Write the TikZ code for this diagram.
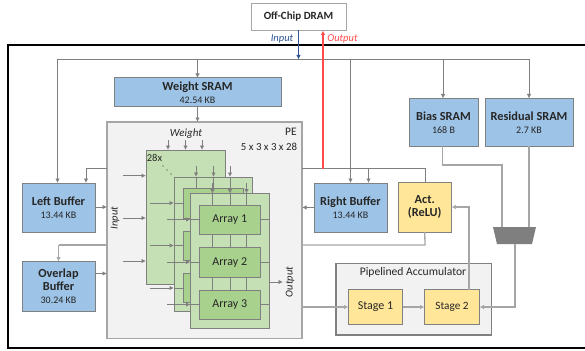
\documentclass[tikz,border=0pt]{standalone}
\usepackage{fontspec}
\setmainfont{Carlito}
\usetikzlibrary{arrows.meta}
\definecolor{bluefill}{HTML}{9DC3E6}
\definecolor{yellowfill}{HTML}{FFE699}
\definecolor{planefill}{HTML}{C5E0B4}
\definecolor{arrayfill}{HTML}{A9D18E}
\definecolor{panelfill}{HTML}{F2F2F2}
\definecolor{linegray}{HTML}{7F7F7F}
\definecolor{softgray}{HTML}{A6A6A6}
\definecolor{edgegray}{HTML}{808080}
\definecolor{inblue}{HTML}{2F5597}
\definecolor{outred}{HTML}{FF4B4B}
\definecolor{txt}{HTML}{262626}
\newcommand{\bx}[7][]{\node[#1, minimum width={(#4-#2)*1pt}, minimum height={(#5-#3)*1pt}] (#6) at ({(#2+#4)/2},{(#3+#5)/2}) {#7};}
\tikzset{
  x=1pt,y=-1pt,
  base/.style={draw=edgegray,line width=1pt,inner sep=0pt,outer sep=0pt,align=center,text=txt},
  mem/.style={base,fill=bluefill},
  yel/.style={base,fill=yellowfill},
  panel/.style={base,fill=panelfill,draw=softgray,line width=1.2pt},
  plane/.style={base,fill=planefill},
  arr/.style={base,fill=arrayfill,font=\fontsize{12}{14}\selectfont},
  tip/.style={-{Latex[length=4.5pt,width=4.5pt]}},
  wire/.style={draw=linegray,line width=.9pt},
  awire/.style={wire,tip},
  softwire/.style={draw=softgray,line width=1.3pt},
  lbl/.style={inner sep=0pt,outer sep=0pt,font=\fontsize{10.5}{12}\selectfont\itshape,text=txt},
}
\newcommand{\nm}[2]{{\fontsize{12.3}{14}\selectfont\bfseries #1}\\[1pt]{\fontsize{10}{11}\selectfont #2}}
\begin{document}
\begin{tikzpicture}
\useasboundingbox (0,0) rectangle (585,350);
\fill[white] (0,0) rectangle (585,350);
% frame
\draw[black,line width=1.3pt] (590,45) -- (8,45) -- (8,348) -- (590,348);
% DRAM
\bx[base,fill=white,draw=softgray]{251}{3.5}{346}{30.5}{dram}{\fontsize{11}{12}\selectfont\bfseries Off-Chip DRAM}
% main boxes
\bx[panel]{107}{122}{302}{338.5}{pe}{}
\bx[panel,draw=edgegray]{336}{263.5}{491.5}{335}{acc}{}
\bx[mem]{114}{78}{281}{106.5}{wsram}{\nm{Weight SRAM}{42.54 KB}}
\bx[mem]{409}{98.5}{478}{146}{bsram}{\nm{Bias SRAM}{168 B}}
\bx[mem]{485}{98.5}{573}{146}{rsram}{\nm{Residual SRAM}{2.7 KB}}
\bx[mem]{22}{183}{95}{232}{lbuf}{\nm{Left Buffer}{13.44 KB}}
\bx[mem]{22}{261.5}{95}{311}{obuf}{{\fontsize{12.3}{15}\selectfont\bfseries Overlap}\\[1pt]{\fontsize{12.3}{14}\selectfont\bfseries Buffer}\\[1pt]{\fontsize{10}{11}\selectfont 30.24 KB}}
\bx[mem]{314}{183}{387}{232}{rbuf}{\nm{Right Buffer}{13.44 KB}}
\bx[yel]{398}{182}{451.5}{232}{act}{{\fontsize{12.3}{15}\selectfont\bfseries Act.}\\[1pt]{\fontsize{12.3}{14}\selectfont\bfseries (ReLU)}}
\bx[yel]{348.5}{289.5}{402.5}{324.5}{st1}{\fontsize{12}{13}\selectfont Stage 1}
\bx[yel]{424.5}{289.5}{479.5}{324.5}{st2}{\fontsize{11.2}{13}\selectfont Stage 2}
\node[inner sep=0pt,text=txt,font=\fontsize{11.6}{13}\selectfont] (acclbl) at (413,272) {Pipelined Accumulator};
\node[inner sep=0pt,text=txt,font=\fontsize{11.5}{13}\selectfont] (pelbl) at (291,132) {PE};
\node[inner sep=0pt,text=txt,font=\fontsize{10.8}{12}\selectfont] (pedim) at (269,146.5) {5 x 3 x 3 x 28};
% named coordinates
\coordinate (busL) at (57.5,59.5);
\coordinate (busR) at (529,59.5);
\coordinate (busW) at (197.5,59.5);
\coordinate (busIn) at (298.5,59.5);
\coordinate (busB) at (443,59.5);
\coordinate (busRb) at (350.5,59.5);
\coordinate (fbL) at (86,168.5);
\coordinate (fbR) at (425,168.5);
\coordinate (fbRb) at (368.5,168.5);
% mux
\fill[linegray] (493,227) -- (536,227) -- (532,244) -- (497,244) -- cycle;
\coordinate (muxb) at (502,227);
\coordinate (muxr) at (529,227);
\coordinate (muxo) at (515,244);
% bus and memory wires
\draw[wire] (busL) -- (busR);
\draw[awire] (busL) -- (57.5,183);
\draw[awire] (busW) -- (197.5,78);
\draw[awire] (197.5,106.5) -- (197.5,122);
\draw[awire] (busB) -- (443,98.5);
\draw[awire] (busR) -- (529,98.5);
\draw[awire] (busRb) -- (350.5,183);
\draw[wire] (302,168.5) -- (fbR) -- (425,182);
\draw[wire] (107,168.5) -- (fbL);
\draw[awire] (fbL) -- (86,183);
\draw[awire] (fbRb) -- (368.5,183);
\draw[awire] (95.5,207) -- (107,207);
\draw[awire] (95.5,273.5) -- (107,273.5);
\draw[softwire] (107,245) -- (58.5,245);
\draw[softwire,tip] (58.5,245) -- (58.5,261.5);
\draw[awire] (rbuf.west) -- (pe.east |- rbuf.west);
\draw[softwire] (act.south) -- (425,245) -- (302,245);
\draw[softwire,tip] (469,289.5) -- (469,207) -- (451.5,207);
\draw[softwire,tip] (302,307) -- (348.5,307);
\draw[softwire,tip] (st1.east) -- (st2.west);
\draw[softwire,tip] (muxo) -- (515,307) -- (479.5,307);
\draw[softwire] (442.7,146) -- (442.7,165) -- (502,165) -- (muxb);
\draw[softwire] (529,146) -- (muxr);
% off-chip
\draw[draw=inblue,line width=.9pt,tip] (298.5,30.5) -- (busIn);
\draw[draw=outred,line width=1.1pt,tip] (323,168.5) -- (323,30.5);
\node[lbl,text=inblue] (inlbl) at (282,39) {Input};
\node[lbl,text=outred] (outlbl) at (342.5,39) {Output};
% PE labels
\node[lbl,font=\fontsize{11}{12}\selectfont\itshape] (wlbl) at (186,133.5) {Weight};
\node[lbl,rotate=90] (ilbl) at (115,218) {Input};
\node[lbl,rotate=90] (olbl) at (290,282) {Output};
% first plane
\bx[plane]{146}{150}{225}{284}{p1}{}
\node[inner sep=0pt,text=txt,font=\fontsize{10.5}{12}\selectfont] (n28) at (154.5,157.5) {28x};
\fill[txt] (163,166) circle (.6) (167,170) circle (.6) (171,174) circle (.6);
\foreach \x in {168,185.5,202} \draw[awire] (\x,140) -- (\x,150);
\foreach \y in {175.7,218,261} \draw[awire] (122.5,\y) -- (146,\y);
% second plane
\bx[plane]{174}{177}{252.5}{311.5}{p2}{}
\bx[arr]{183}{188}{243.5}{218}{a21}{}
\bx[arr]{183}{231}{243.5}{260}{a22}{}
\bx[arr]{183}{273.5}{243.5}{302.5}{a23}{}
\foreach \x in {196,213.5,230} {\draw[awire] (\x,166) -- (\x,177); \draw[wire] (\x,177) -- (\x,188);}
\foreach \y in {203,245.5,288} {\draw[awire] (150,\y) -- (174,\y); \draw[wire] (174,\y) -- (183,\y);}
% third plane
\bx[plane]{190.5}{193.7}{269}{328}{p3}{}
\bx[arr]{199.5}{205}{260}{234.5}{a1}{Array 1}
\bx[arr]{199.5}{247.7}{260}{277}{a2}{Array 2}
\bx[arr]{199.5}{290}{260}{319.5}{a3}{Array 3}
\foreach \x in {212.5,230,246.5} {
  \draw[awire] (\x,183) -- (\x,193.7);
  \draw[wire] (\x,193.7) -- (\x,205);
  \draw[wire] (\x,234.5) -- (\x,247.7);
  \draw[wire] (\x,277) -- (\x,290);
}
\foreach \y/\n in {219.5/a1,262/a2,304.5/a3} {
  \draw[awire] (167,\y) -- (190.5,\y);
  \draw[wire] (190.5,\y) -- (\n.west |- 0,\y);
  \draw[wire] (\n.east |- 0,\y) -- (269,\y);
}
\draw[awire] (p3.east |- 0,282) -- (283,282);
\end{tikzpicture}
\end{document}
